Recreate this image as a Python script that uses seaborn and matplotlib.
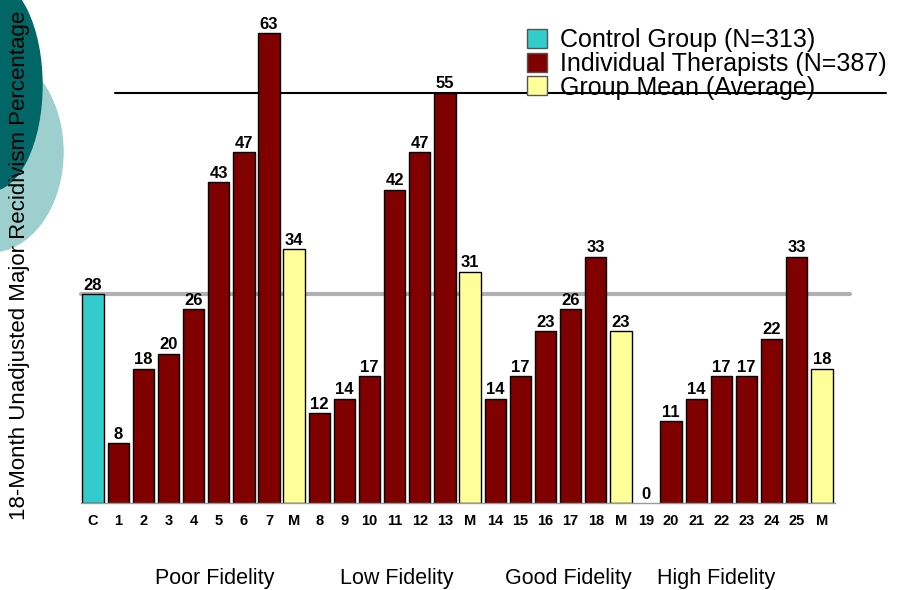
import matplotlib
matplotlib.use("Agg")
import matplotlib.pyplot as plt
from matplotlib.patches import Ellipse, Patch
import pandas as pd
import seaborn as sns

# ---- data ----
bar_ids = ["C", "1", "2", "3", "4", "5", "6", "7", "M1",
           "8", "9", "10", "11", "12", "13", "M2",
           "14", "15", "16", "17", "18", "M3",
           "19", "20", "21", "22", "23", "24", "25", "M4"]
tick_labels = ["C", "1", "2", "3", "4", "5", "6", "7", "M",
               "8", "9", "10", "11", "12", "13", "M",
               "14", "15", "16", "17", "18", "M",
               "19", "20", "21", "22", "23", "24", "25", "M"]
values = [28, 8, 18, 20, 26, 43, 47, 63, 34,
          12, 14, 17, 42, 47, 55, 31,
          14, 17, 23, 26, 33, 23,
          0, 11, 14, 17, 17, 22, 33, 18]
kinds = (["Control Group (N=313)"] + ["Individual Therapists (N=387)"] * 7 + ["Group Mean (Average)"]
         + ["Individual Therapists (N=387)"] * 6 + ["Group Mean (Average)"]
         + ["Individual Therapists (N=387)"] * 5 + ["Group Mean (Average)"]
         + ["Individual Therapists (N=387)"] * 7 + ["Group Mean (Average)"])
group_names = ["Poor Fidelity", "Low Fidelity", "Good Fidelity", "High Fidelity"]
group_centers = [4.85, 12.1, 18.9, 24.8]
ref_lines = [55, 28]

colors = {"Control Group (N=313)": "#33CCCC",
          "Individual Therapists (N=387)": "#800000",
          "Group Mean (Average)": "#FFFF99"}

df = pd.DataFrame({"id": bar_ids, "value": values, "kind": kinds})

sns.set_style("white")
plt.rcParams["font.family"] = ["Liberation Sans", "DejaVu Sans"]
plt.rcParams["text.color"] = "black"
plt.rcParams["xtick.color"] = "black"

fig = plt.figure(figsize=(9.14, 5.9), dpi=100)

# decorative circles on the left
bg = fig.add_axes([0, 0, 1, 1], zorder=-1)
bg.set_xlim(0, 914)
bg.set_ylim(590, 0)
bg.axis("off")
bg.add_patch(Ellipse((-10, 152), 146, 200, color="#9ECFCF"))
bg.add_patch(Ellipse((-10, 85), 104, 212, color="#006666"))

ax = fig.add_axes([80.5 / 914, 1 - 503 / 590, 754 / 914, 485 / 590])
ax.set_facecolor("none")

sns.barplot(data=df, x="id", y="value", hue="kind", order=bar_ids,
            palette=colors, saturation=1, dodge=False, width=0.85,
            edgecolor="black", linewidth=1, legend=False, ax=ax, zorder=2)

for p in ax.patches:
    if p.get_height() == 0:
        p.set_linewidth(0)

for c in ax.containers:
    labels = ["%d" % round(p.get_height()) for p in c]
    ax.bar_label(c, labels=labels, padding=1, fontsize=12,
                 fontweight="bold", color="black")

ax.set_xlim(-0.5, len(bar_ids) - 0.5)
ax.set_ylim(0, 65)
ax.set_xlabel("")
ax.set_ylabel("")
ax.set_yticks([])
ax.set_xticks(range(len(bar_ids)))
ax.set_xticklabels(tick_labels, fontsize=10.5, fontweight="bold")
ax.set_xticks([i + 0.5 for i in range(-1, len(bar_ids))], minor=True)
ax.tick_params(axis="x", which="major", length=0, pad=8)
ax.tick_params(axis="x", which="minor", length=5, color="#999999", width=0.8)
for s in ["top", "right", "left"]:
    ax.spines[s].set_visible(False)
ax.spines["bottom"].set_color("#999999")
ax.spines["bottom"].set_linewidth(1)

# reference lines
ax.plot([0.87, 31.55], [ref_lines[0], ref_lines[0]], color="black", lw=1.5,
        clip_on=False, zorder=1)
ax.plot([-0.5, 30.1], [ref_lines[1], ref_lines[1]], color="#B0B0B0", lw=3,
        clip_on=False, zorder=1)

# legend
handles = [Patch(facecolor=colors[k], edgecolor="#555555") for k in colors]
fig.legend(handles, list(colors.keys()), loc="upper left",
           bbox_to_anchor=(514 / 914, 1 - 16 / 590), frameon=False,
           fontsize=18, handlelength=0.8, handleheight=0.8,
           handletextpad=0.55, labelspacing=-0.02, borderpad=0)

# group labels
for name, xc in zip(group_names, group_centers):
    ax.text(xc, -0.155, name, transform=ax.get_xaxis_transform(),
            ha="center", va="center", fontsize=15.5)

fig.text(20 / 914, 1 - 265 / 590, "18-Month Unadjusted Major Recidivism Percentage",
         rotation=90, ha="center", va="center", fontsize=16)

fig.savefig("out.png", dpi=100)
